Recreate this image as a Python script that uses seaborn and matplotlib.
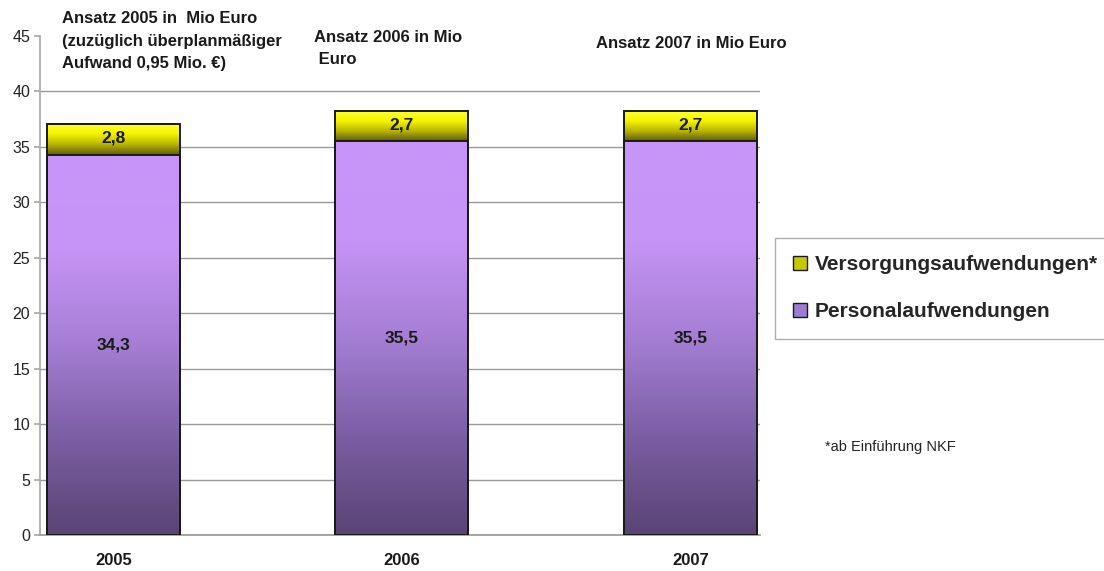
import numpy as np
import pandas as pd
import matplotlib
matplotlib.use("Agg")
import matplotlib.pyplot as plt
import seaborn as sns
from matplotlib.colors import LinearSegmentedColormap
from matplotlib.patches import Patch

# --- Daten ---
jahre = ["2005", "2006", "2007"]
personal = [34.3, 35.5, 35.5]
versorgung = [2.8, 2.7, 2.7]
label_personal = ["34,3", "35,5", "35,5"]
label_versorgung = ["2,8", "2,7", "2,7"]

sns.set_theme(style="white")
plt.rcParams['font.family'] = ['Liberation Sans', 'DejaVu Sans']

df = pd.DataFrame({"Jahr": jahre, "Personal": personal, "Versorgung": versorgung})
df["Gesamt"] = df["Personal"] + df["Versorgung"]

fig = plt.figure(figsize=(11.04, 5.71), dpi=100)
ax = fig.add_axes([0.036, 0.063, 0.652, 0.874])

breite = 0.46
sns.barplot(data=df, x="Jahr", y="Gesamt", color="#e8e800", width=breite,
            edgecolor="#1a1a1a", linewidth=1.4, ax=ax, zorder=3)
sns.barplot(data=df, x="Jahr", y="Personal", color="#c08ef0", width=breite,
            edgecolor="#1a1a1a", linewidth=1.4, ax=ax, zorder=4)

# Farbverläufe
cmap_gelb = LinearSegmentedColormap.from_list("gelb", ["#5e5a10", "#b8b400", "#f4f400", "#ffff30"])
cmap_lila = LinearSegmentedColormap.from_list("lila", ["#5a4474", "#7b5ea3", "#a57ed4", "#c694f5", "#c896f8"])
grad = np.linspace(0, 1, 256).reshape(-1, 1)

n = len(jahre)
gelb_patches = ax.patches[:n]
lila_patches = ax.patches[n:2 * n]
for i, p in enumerate(gelb_patches):
    x0 = p.get_x()
    x1 = x0 + p.get_width()
    im = ax.imshow(grad, extent=[x0, x1, personal[i], personal[i] + versorgung[i]],
                   origin="lower", aspect="auto", cmap=cmap_gelb, zorder=3.5)
    im.set_clip_path(p)
for i, p in enumerate(lila_patches):
    x0 = p.get_x()
    x1 = x0 + p.get_width()
    im = ax.imshow(grad, extent=[x0, x1, 0, personal[i]],
                   origin="lower", aspect="auto", cmap=cmap_lila, zorder=4.5)
    im.set_clip_path(p)
# Rahmen obendrauf
for p in ax.patches[:2 * n]:
    p.set_facecolor("none")
    p.set_zorder(5)

# Beschriftungen in den Balken
for i in range(n):
    ax.text(i, personal[i] / 2, label_personal[i], ha="center", va="center",
            fontsize=12.5, fontweight="bold", color="#1a1a1a", zorder=6)
    ax.text(i, personal[i] + versorgung[i] / 2 + 0.1, label_versorgung[i], ha="center", va="center",
            fontsize=12.5, fontweight="bold", color="#1a1a1a", zorder=6)

ax.set_xlim(-0.255, 2.24)
ax.set_ylim(0, 45)
ax.set_yticks(range(0, 46, 5))
ax.yaxis.grid(True, color="#9a9a9a", linewidth=1.0, zorder=0)
ax.set_axisbelow(True)
ax.set_xlabel("")
ax.set_ylabel("")
for s in ["top", "right"]:
    ax.spines[s].set_visible(False)
ax.spines["left"].set_color("#aaaaaa")
ax.spines["bottom"].set_color("#9a9a9a")
ax.tick_params(axis="y", left=True, length=4, color="#aaaaaa", labelsize=11.5, labelcolor="#222222", pad=3)
ax.tick_params(axis="x", bottom=False, labelsize=12, pad=7)
for t in ax.get_xticklabels():
    t.set_fontweight("bold")
    t.set_color("#1a1a1a")
fig.canvas.draw()
ax.get_ygridlines()[-1].set_visible(False)

# Überschriften
fig.text(0.056, 0.98, "Ansatz 2005 in  Mio Euro\n(zuzüglich überplanmäßiger\nAufwand 0,95 Mio. €)",
         ha="left", va="top", fontsize=12, fontweight="bold", color="#1a1a1a", linespacing=1.62)
fig.text(0.284, 0.948, "Ansatz 2006 in Mio\n Euro", ha="left", va="top",
         fontsize=12, fontweight="bold", color="#1a1a1a", linespacing=1.62)
fig.text(0.54, 0.937, "Ansatz 2007 in Mio Euro", ha="left", va="top",
         fontsize=12, fontweight="bold", color="#1a1a1a")

# Legende
handles = [Patch(facecolor="#c8c800", edgecolor="#1a1a1a", label="Versorgungsaufwendungen*"),
           Patch(facecolor="#9c7ed0", edgecolor="#1a1a1a", label="Personalaufwendungen")]
fig.legend(handles=handles, loc="upper left", bbox_to_anchor=(0.702, 0.584),
           frameon=True, prop={"weight": "bold", "size": 15},
           handlelength=0.7, handleheight=0.7, handletextpad=0.35,
           labelspacing=1.35, borderpad=0.85, borderaxespad=0.0,
           fancybox=False, edgecolor="#999999")

fig.text(0.747, 0.218, "*ab Einführung NKF", ha="left", va="center", fontsize=10.5, color="#222222")

fig.savefig("out.png", dpi=100)
